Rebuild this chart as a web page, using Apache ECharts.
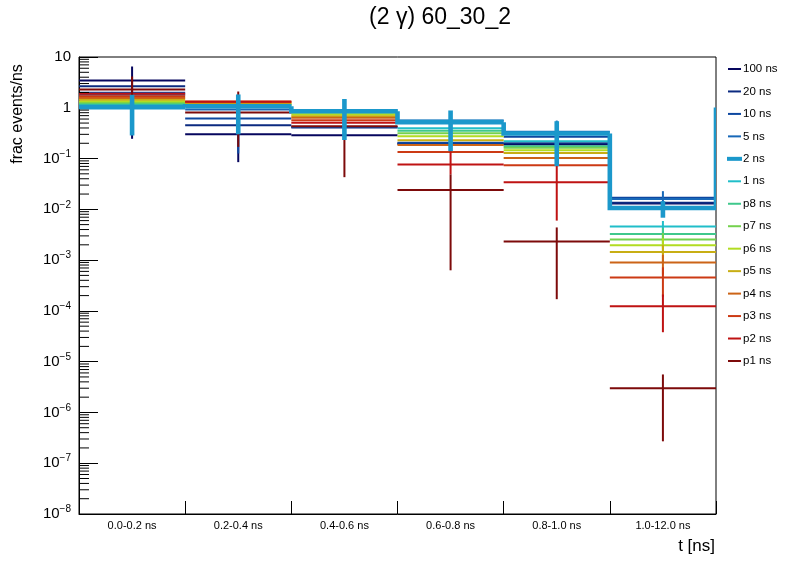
<!DOCTYPE html>
<html>
<head>
<meta charset="utf-8">
<script src="https://cdn.jsdelivr.net/npm/echarts@6/dist/echarts.min.js"></script>
<style>
html,body{margin:0;padding:0;background:#fff;}
#chart{width:796px;height:572px;}
</style>
</head>
<body>
<div id="chart"></div>
<script>
// ---- data ----
const categories = ['0.0-0.2 ns','0.2-0.4 ns','0.4-0.6 ns','0.6-0.8 ns','0.8-1.0 ns','1.0-12.0 ns'];
const seriesNames = ['100 ns','20 ns','10 ns','5 ns','2 ns','1 ns','p8 ns','p7 ns','p6 ns','p5 ns','p4 ns','p3 ns','p2 ns','p1 ns'];
const seriesColors = ['#06065e','#0b2a80','#0d47a0','#1868b8','#1b98cb','#20bec9','#3fc88c','#74d14e','#b2dc22','#c8ae14','#cc6417','#cc3a14','#bf1313','#7d0a0a'];

const v100 = [3.45, 0.302, 0.289, 0.195, 0.19, 0.0130];
const v20  = [2.66, 0.454, 0.41, 0.198, 0.201, 0.0135];
const v10  = [1.97, 0.615, 0.42, 0.205, 0.269, 0.0169];
const v5   = [1.80, 0.93, 0.90, 0.56, 0.337, 0.0160];
const v2   = [1.03, 1.07, 0.857, 0.521, 0.312, 0.0106];
const v1   = [1.15, 1.10, 0.88, 0.396, 0.220, 0.0046];
const vp8  = [1.20, 1.13, 0.84, 0.352, 0.175, 0.00325];
const vp7  = [1.27, 1.16, 0.80, 0.316, 0.163, 0.00255];
const vp6  = [1.35, 1.19, 0.738, 0.276, 0.146, 0.00197];
const vp5  = [1.44, 1.23, 0.684, 0.230, 0.128, 0.00144];
const vp4  = [1.55, 1.29, 0.636, 0.184, 0.102, 0.00090];
const vp3  = [1.69, 1.33, 0.570, 0.134, 0.0742, 0.000456];
const vp2  = [1.89, 1.31, 0.507, 0.0766, 0.0343, 0.000124];
const vp1  = [2.29, 0.81, 0.434, 0.0239, 0.00233, 0.0000030];
const twoNsRightEdge = 1.01;

// error-bar ends (low, high); null where no bar is visible
const lo100 = [0.245, 0.085, null, null, null, null];
const hi100 = [6.5, 0.52, null, null, null, null];
const lo10  = [null, 0.126, null, null, null, null];
const hi10  = [null, 1.1, null, null, null, null];
const lo5   = [null, null, null, null, 0.11, 0.0092];
const hi5   = [null, null, null, null, 0.56, 0.0228];
const lo2   = [0.285, 0.30, 0.232, 0.140, 0.0708, 0.00684];
const hi2   = [1.80, 1.83, 1.49, 0.885, 0.544, 0.0145];
const lo1   = [null, null, null, null, null, 0.0033];
const hi1   = [null, null, null, null, null, 0.0059];
const lop8  = [null, null, null, null, null, 0.0022];
const hip8  = [null, null, null, null, null, 0.0043];
const lop7  = [null, null, null, null, null, 0.0017];
const hip7  = [null, null, null, null, null, 0.0034];
const lop6  = [null, null, null, null, null, 0.0013];
const hip6  = [null, null, null, null, null, 0.0027];
const lop5  = [null, null, null, null, null, 0.0009];
const hip5  = [null, null, null, null, null, 0.0020];
const lop4  = [null, null, null, null, null, 0.00052];
const hip4  = [null, null, null, null, null, 0.00128];
const lop3  = [null, null, null, null, null, 0.00019];
const hip3  = [null, null, null, null, null, 0.00072];
const lop2  = [null, null, null, 0.0486, 0.0060, 0.000038];
const hip2  = [null, null, null, 0.14, 0.075, 0.00021];
const lop1  = [0.45, 0.17, 0.043, 0.00063, 0.00017, 0.00000027];
const hip1  = [4.13, 2.09, 0.83, 0.0487, 0.0044, 0.0000056];

const seriesValues = [v100, v20, v10, v5, v2, v1, vp8, vp7, vp6, vp5, vp4, vp3, vp2, vp1];
const seriesLo = [lo100, null, lo10, lo5, lo2, lo1, lop8, lop7, lop6, lop5, lop4, lop3, lop2, lop1];
const seriesHi = [hi100, null, hi10, hi5, hi2, hi1, hip8, hip7, hip6, hip5, hip4, hip3, hip2, hip1];

// minor tick positions of the log axis (2..9 x 10^k)
const minorTicks = [];
for (let e = -8; e < 1; e++) for (let m = 2; m <= 9; m++) minorTicks.push(m * Math.pow(10, e));

const FONT = '"Liberation Sans", Arial, Helvetica, sans-serif';

function makeRender(color, lw) {
  return function (params, api) {
    const i = api.value(0), v = api.value(1);
    const c = api.coord([i, v]);
    const w = api.size([1, v])[0];
    const children = [{
      type: 'line',
      shape: { x1: c[0] - w / 2, y1: c[1], x2: c[0] + w / 2, y2: c[1] },
      style: { stroke: color, lineWidth: lw, lineCap: 'butt' }
    }];
    const lo = api.value(2), hi = api.value(3);
    if (lo > 0 && hi > 0) {
      const a = api.coord([i, lo]), b = api.coord([i, hi]);
      children.push({
        type: 'line',
        shape: { x1: c[0], y1: a[1], x2: c[0], y2: b[1] },
        style: { stroke: color, lineWidth: lw, lineCap: 'butt' }
      });
    }
    return { type: 'group', children: children };
  };
}

function makeStepRender(color, lw) {
  return function (params, api) {
    const i = api.value(0), v = api.value(1);
    const c = api.coord([i, v]);
    const w = api.size([1, v])[0];
    const left = c[0] - w / 2, right = c[0] + w / 2;
    const pts = [];
    const prev = api.value(4), next = api.value(5);
    if (prev > 0) pts.push([left, api.coord([i, prev])[1]]);
    pts.push([left, c[1]]);
    pts.push([right, c[1]]);
    if (next > 0) pts.push([right, api.coord([i, next])[1]]);
    const children = [{
      type: 'polyline', shape: { points: pts },
      style: { stroke: color, lineWidth: lw, fill: null, lineJoin: 'miter' }
    }];
    const lo = api.value(2), hi = api.value(3);
    if (lo > 0 && hi > 0) {
      const a = api.coord([i, lo]), b = api.coord([i, hi]);
      children.push({
        type: 'line',
        shape: { x1: c[0], y1: a[1], x2: c[0], y2: b[1] },
        style: { stroke: color, lineWidth: lw, lineCap: 'butt' }
      });
    }
    return { type: 'group', children: children };
  };
}

const series = [];
seriesNames.forEach(function (name, k) {
  const vals = seriesValues[k];
  const lo = seriesLo[k], hi = seriesHi[k];
  const color = seriesColors[k];
  const isStep = name === '2 ns';
  const data = vals.map(function (v, i) {
    const row = [i, v, lo ? lo[i] : null, hi ? hi[i] : null];
    if (isStep) {
      row.push(i > 0 ? vals[i - 1] : null);
      row.push(i === vals.length - 1 ? twoNsRightEdge : null);
    }
    return row;
  });
  series.push({
    type: 'custom',
    name: name,
    data: data,
    encode: { x: 0, y: 1 },
    clip: true,
    z: isStep ? 4 : 3,
    itemStyle: { color: color },
    renderItem: isStep ? makeStepRender(color, 4.6) : makeRender(color, 2)
  });
});

// minor ticks on the log axis
series.push({
  type: 'custom',
  name: 'minorTicks',
  silent: true,
  z: 5,
  data: minorTicks.map(function (t) { return [0, t]; }),
  encode: { x: 0, y: 1 },
  renderItem: function (params, api) {
    const c = api.coord([0, api.value(1)]);
    const w = api.size([1, api.value(1)])[0];
    const x0 = c[0] - w / 2;
    return { type: 'line', shape: { x1: x0, y1: c[1], x2: x0 + 10, y2: c[1] },
      style: { stroke: '#000', lineWidth: 1 } };
  }
});

const legendData = seriesNames.map(function (n, k) {
  const d = { name: n, icon: 'rect' };
  if (n === '2 ns') d.itemStyle = { color: seriesColors[k], borderColor: seriesColors[k], borderWidth: 2 };
  return d;
});

const chart = echarts.init(document.getElementById('chart'), null, { renderer: 'canvas' });
chart.setOption({
  backgroundColor: '#fff',
  animation: false,
  textStyle: { fontFamily: FONT },
  grid: { left: 79, right: 80, top: 57, bottom: 58, show: true, borderColor: '#000', borderWidth: 1, backgroundColor: 'transparent' },
  legend: {
    data: legendData,
    orient: 'vertical',
    left: 727, top: 62,
    padding: 0,
    itemWidth: 13, itemHeight: 2,
    itemGap: 8.46,
    textStyle: { fontSize: 11.5, color: '#000', lineHeight: 14, fontFamily: FONT, padding: [0, 0, 0, -3] },
    selectedMode: false
  },
  xAxis: {
    type: 'category',
    data: categories,
    boundaryGap: true,
    axisLine: { show: true, lineStyle: { color: '#000', width: 1 } },
    axisTick: { show: true, inside: true, length: 13, interval: 0, lineStyle: { color: '#000' } },
    axisLabel: { fontSize: 11, color: '#000', margin: 6, interval: 0, fontFamily: FONT },
    splitLine: { show: false }
  },
  yAxis: {
    type: 'log',
    logBase: 10,
    min: 1e-8, max: 10,
    splitNumber: 9,
    axisLine: { show: true, lineStyle: { color: '#000', width: 1 } },
    axisTick: { show: true, inside: true, length: 19, lineStyle: { color: '#000' } },
    splitLine: { show: false },
    axisLabel: {
      color: '#000', margin: 8, fontFamily: FONT,
      formatter: function (v) {
        const e = Math.round(Math.log10(v));
        if (e === 1) return '{b|10}';
        if (e === 0) return '{b|1}';
        return '{b|10}{s|\u2212' + (-e) + '}';
      },
      rich: {
        b: { fontSize: 15, color: '#000', fontFamily: FONT },
        s: { fontSize: 10, color: '#000', fontFamily: FONT, verticalAlign: 'bottom', padding: [0, 0, 9, 0] }
      }
    }
  },
  graphic: [
    { type: 'text', x: 440, y: 18, style: { text: '(2 \u03b3) 60_30_2', font: '23px ' + FONT, fill: '#000', textAlign: 'center', textVerticalAlign: 'middle' } },
    { type: 'text', x: 18, y: 114, rotation: Math.PI / 2, style: { text: 'frac events/ns', font: '16px ' + FONT, fill: '#000', textAlign: 'center', textVerticalAlign: 'middle' } },
    { type: 'text', x: 715, y: 546, style: { text: 't [ns]', font: '17px ' + FONT, fill: '#000', textAlign: 'right', textVerticalAlign: 'middle' } }
  ],
  series: series
});
</script>
</body>
</html>
